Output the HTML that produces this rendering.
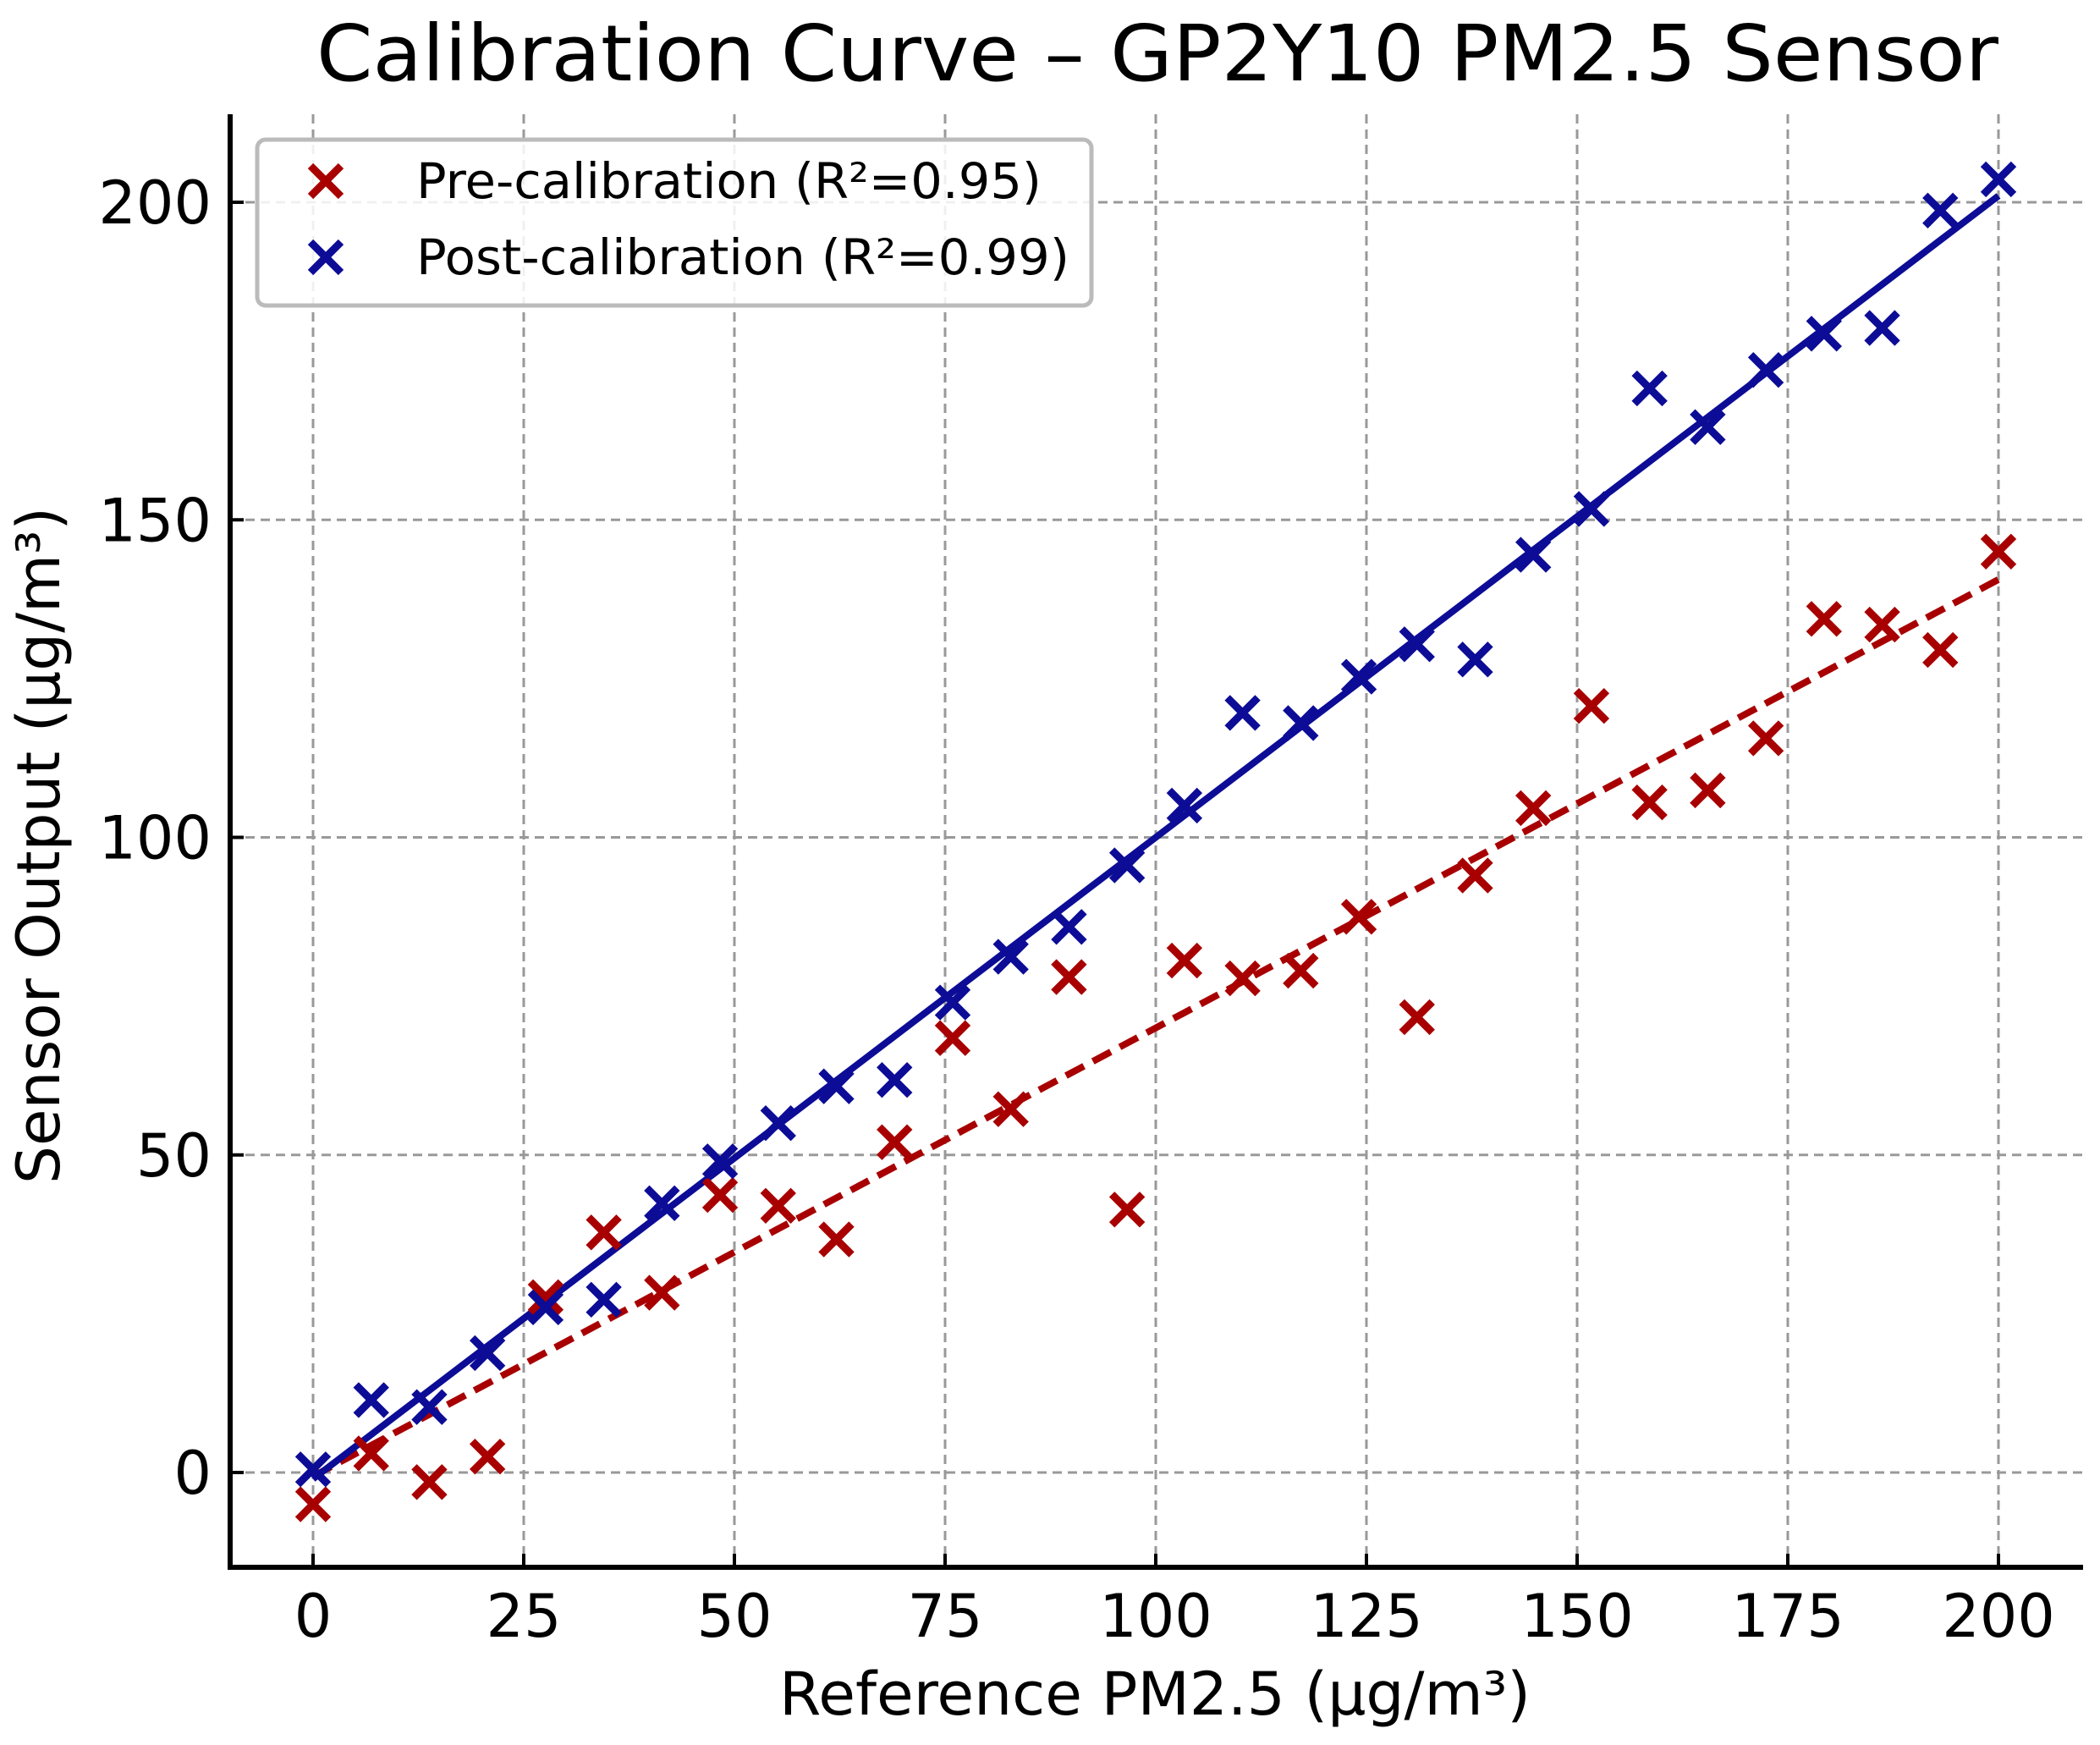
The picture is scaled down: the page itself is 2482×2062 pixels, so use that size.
<!DOCTYPE html>
<html><head><meta charset="utf-8"><style>html,body{margin:0;padding:0;background:#fff}svg{display:block}</style></head>
<body>
<svg id="chart" width="2482" height="2062" viewBox="0 0 2482 2062" xmlns="http://www.w3.org/2000/svg" font-family="DejaVu Sans, Liberation Sans, sans-serif">
<rect width="2482" height="2062" fill="#fff"/>
<g id="grid"></g><g id="fits"></g><g id="marks"></g><g id="axes"></g>
<text x="1368" y="95" font-size="92" text-anchor="middle" textLength="1988" lengthAdjust="spacingAndGlyphs">Calibration Curve – GP2Y10 PM2.5 Sensor</text>
<text x="1365" y="2026" font-size="70" text-anchor="middle" textLength="888" lengthAdjust="spacingAndGlyphs">Reference PM2.5 (μg/m³)</text>
<text transform="translate(70,999) rotate(-90)" font-size="70" text-anchor="middle" textLength="800" lengthAdjust="spacingAndGlyphs">Sensor Output (μg/m³)</text>
<g>
<rect x="304" y="165" width="986" height="196" rx="10" fill="#fff" fill-opacity="0.85" stroke="#bbb" stroke-width="5"/>
<g id="legmarks"></g>
<text x="492" y="234" font-size="58" textLength="739" lengthAdjust="spacingAndGlyphs">Pre-calibration (R²=0.95)</text>
<text x="492" y="324" font-size="58" textLength="772" lengthAdjust="spacingAndGlyphs">Post-calibration (R²=0.99)</text>
</g>
</svg>
<script>
const xValues = [0,6.9,13.8,20.7,27.6,34.5,41.4,48.3,55.2,62.1,69,75.9,82.8,89.7,96.6,103.4,110.3,117.2,124.1,131,137.9,144.8,151.7,158.6,165.5,172.4,179.3,186.2,193.1,200];
const preValues = [-5,3,-1.5,2.5,27.6,37.8,28.3,43.7,42,36.7,52,68.4,57.2,78,41.4,80.6,77.8,79,87.5,71.7,94,104.6,120.7,105.5,107.4,115.6,134.4,133.5,129.5,145];
const postValues = [0.5,11.4,10.3,18.8,26,27.2,42.4,49,55,60.8,61.8,74,81.2,85.9,95.6,105,119.6,118,125.3,130.4,128,144.5,151.7,170.7,164.6,173.6,179.3,180.2,198.7,203.6];
const preFit = [0.706, -0.6];   // slope, intercept
const postFit = [1.01, -1.0];
const xTicks = [0,25,50,75,100,125,150,175,200];
const yTicks = [0,50,100,150,200];

const NS = "http://www.w3.org/2000/svg";
const L = 272, R = 2462, T = 135, B = 1852;
const xs = v => 370 + (v - 0) * (2362 - 370) / 200;
const ys = v => 1740 - v * (1740 - 239) / 200;
function mk(tag, attrs, parent) { const e = document.createElementNS(NS, tag); for (const k in attrs) e.setAttribute(k, attrs[k]); parent.appendChild(e); return e; }
const grid = document.getElementById('grid'), fits = document.getElementById('fits'), marks = document.getElementById('marks'), axes = document.getElementById('axes');
const PRE = "#a80000", POST = "#0c0c96";

xTicks.forEach(t => {
  const g = mk('line', {x1: xs(t), x2: xs(t), y1: T, y2: B, stroke: '#999', 'stroke-width': 3, 'stroke-dasharray': '11 7'}, grid);
  
  
  const tk = mk('line', {x1: xs(t), x2: xs(t), y1: B, y2: B - 16, stroke: '#000', 'stroke-width': 4}, axes);
  
  
  const lb = mk('text', {x: xs(t), y: 1934, 'font-size': 70, 'text-anchor': 'middle'}, axes);
  lb.textContent = t;
  
  
});
yTicks.forEach(t => {
  const g = mk('line', {x1: L, x2: R, y1: ys(t), y2: ys(t), stroke: '#999', 'stroke-width': 3, 'stroke-dasharray': '11 7'}, grid);
  
  
  const tk = mk('line', {x1: L, x2: L + 16, y1: ys(t), y2: ys(t), stroke: '#000', 'stroke-width': 4}, axes);
  
  
  const lb = mk('text', {x: 250, y: ys(t) + 25, 'font-size': 70, 'text-anchor': 'end'}, axes);
  lb.textContent = t;
  
  
});
const sp1 = mk('line', {x1: L, x2: L, y1: T, y2: B + 3, stroke: '#000', 'stroke-width': 6}, axes);


const sp2 = mk('line', {x1: L - 3, x2: R, y1: B, y2: B, stroke: '#000', 'stroke-width': 6}, axes);



function cross(cx, cy, color, parent, name) {
  const d = 18;
  const p = mk('path', {d: `M${cx-d},${cy-d}L${cx+d},${cy+d}M${cx-d},${cy+d}L${cx+d},${cy-d}`, stroke: color, 'stroke-width': 9, fill: 'none'}, parent);
  
  
}
xValues.forEach((x, i) => cross(xs(x), ys(preValues[i]), PRE, marks, 'pre-point'));
xValues.forEach((x, i) => cross(xs(x), ys(postValues[i]), POST, marks, 'post-point'));

const f1 = mk('line', {x1: xs(0), y1: ys(preFit[1]), x2: xs(200), y2: ys(preFit[0]*200 + preFit[1]), stroke: PRE, 'stroke-width': 8, 'stroke-dasharray': '24 12'}, fits);


const f2 = mk('line', {x1: xs(0), y1: ys(postFit[1]), x2: xs(200), y2: ys(postFit[0]*200 + postFit[1]), stroke: POST, 'stroke-width': 8}, fits);



const lm = document.getElementById('legmarks');
cross(385, 214, PRE, lm, 'legend-pre-marker');
cross(385, 304, POST, lm, 'legend-post-marker');
</script>
</body></html>
